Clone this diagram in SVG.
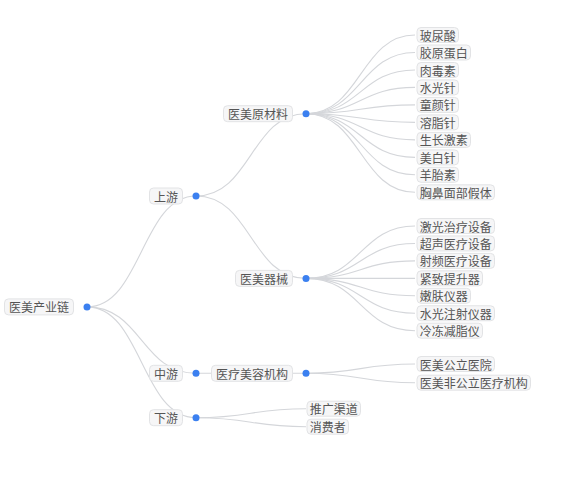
<svg xmlns="http://www.w3.org/2000/svg" width="587" height="494" viewBox="0 0 587 494">
<style>
.e{fill:none;stroke:#d4d6da;stroke-width:1.1}
.b{fill:#f6f6f7;stroke:#e2e3e5;stroke-width:1}
.t{font-family:"Noto Sans CJK SC","Noto Sans",sans-serif;font-size:12px;fill:#555555;dominant-baseline:central}
.d{fill:#3b80f0}
</style>
<rect width="587" height="494" fill="#ffffff"/>
<g id="connectors">
<path class="e" d="M87 306.9C141.5 306.9 141.5 196 196 196"/>
<path class="e" d="M87 306.9C141.5 306.9 141.5 373.3 196 373.3"/>
<path class="e" d="M87 306.9C141.5 306.9 141.5 417.7 196 417.7"/>
<path class="e" d="M196 196C251 196 251 113.7 306 113.7"/>
<path class="e" d="M196 196C251 196 251 278.4 306 278.4"/>
<path class="e" d="M196 373.3C251 373.3 251 373.3 306 373.3"/>
<path class="e" d="M196 417.7C251 417.7 251 408.7 306 408.7"/>
<path class="e" d="M196 417.7C251 417.7 251 426.7 306 426.7"/>
<path class="e" d="M306 113.7C360.5 113.7 360.5 35 415 35"/>
<path class="e" d="M306 113.7C360.5 113.7 360.5 52.5 415 52.5"/>
<path class="e" d="M306 113.7C360.5 113.7 360.5 70 415 70"/>
<path class="e" d="M306 113.7C360.5 113.7 360.5 87.4 415 87.4"/>
<path class="e" d="M306 113.7C360.5 113.7 360.5 104.9 415 104.9"/>
<path class="e" d="M306 113.7C360.5 113.7 360.5 122.4 415 122.4"/>
<path class="e" d="M306 113.7C360.5 113.7 360.5 139.9 415 139.9"/>
<path class="e" d="M306 113.7C360.5 113.7 360.5 157.4 415 157.4"/>
<path class="e" d="M306 113.7C360.5 113.7 360.5 174.8 415 174.8"/>
<path class="e" d="M306 113.7C360.5 113.7 360.5 192.3 415 192.3"/>
<path class="e" d="M306 278.4C360.5 278.4 360.5 226 415 226"/>
<path class="e" d="M306 278.4C360.5 278.4 360.5 243.45 415 243.45"/>
<path class="e" d="M306 278.4C360.5 278.4 360.5 260.9 415 260.9"/>
<path class="e" d="M306 278.4C360.5 278.4 360.5 278.35 415 278.35"/>
<path class="e" d="M306 278.4C360.5 278.4 360.5 295.8 415 295.8"/>
<path class="e" d="M306 278.4C360.5 278.4 360.5 313.25 415 313.25"/>
<path class="e" d="M306 278.4C360.5 278.4 360.5 330.7 415 330.7"/>
<path class="e" d="M306 373.3C360.5 373.3 360.5 364 415 364"/>
<path class="e" d="M306 373.3C360.5 373.3 360.5 382.7 415 382.7"/>
</g>
<g id="n-root"><rect class="b" x="4.5" y="298.9" width="69" height="16" rx="4"/><text class="t" x="9" y="306.9">医美产业链</text><circle class="d" cx="87" cy="306.9" r="3.5"/></g>
<g id="n-up"><rect class="b" x="149.5" y="188" width="33" height="16" rx="4"/><text class="t" x="154" y="196">上游</text><circle class="d" cx="196" cy="196" r="3.5"/></g>
<g id="n-mid"><rect class="b" x="149.5" y="365.3" width="33" height="16" rx="4"/><text class="t" x="154" y="373.3">中游</text><circle class="d" cx="196" cy="373.3" r="3.5"/></g>
<g id="n-down"><rect class="b" x="149.5" y="409.7" width="33" height="16" rx="4"/><text class="t" x="154" y="417.7">下游</text><circle class="d" cx="196" cy="417.7" r="3.5"/></g>
<g id="n-raw"><rect class="b" x="223.5" y="105.7" width="69" height="16" rx="4"/><text class="t" x="228" y="113.7">医美原材料</text><circle class="d" cx="306" cy="113.7" r="3.5"/></g>
<g id="n-device"><rect class="b" x="235.5" y="270.4" width="57" height="16" rx="4"/><text class="t" x="240" y="278.4">医美器械</text><circle class="d" cx="306" cy="278.4" r="3.5"/></g>
<g id="n-inst"><rect class="b" x="211.5" y="365.3" width="81" height="16" rx="4"/><text class="t" x="216" y="373.3">医疗美容机构</text><circle class="d" cx="306" cy="373.3" r="3.5"/></g>
<g id="l1"><rect class="b" x="417" y="27.5" width="41.5" height="15" rx="4"/><text class="t" x="419.75" y="35">玻尿酸</text></g>
<g id="l2"><rect class="b" x="417" y="45" width="53.5" height="15" rx="4"/><text class="t" x="419.75" y="52.5">胶原蛋白</text></g>
<g id="l3"><rect class="b" x="417" y="62.5" width="41.5" height="15" rx="4"/><text class="t" x="419.75" y="70">肉毒素</text></g>
<g id="l4"><rect class="b" x="417" y="79.9" width="41.5" height="15" rx="4"/><text class="t" x="419.75" y="87.4">水光针</text></g>
<g id="l5"><rect class="b" x="417" y="97.4" width="41.5" height="15" rx="4"/><text class="t" x="419.75" y="104.9">童颜针</text></g>
<g id="l6"><rect class="b" x="417" y="114.9" width="41.5" height="15" rx="4"/><text class="t" x="419.75" y="122.4">溶脂针</text></g>
<g id="l7"><rect class="b" x="417" y="132.4" width="53.5" height="15" rx="4"/><text class="t" x="419.75" y="139.9">生长激素</text></g>
<g id="l8"><rect class="b" x="417" y="149.9" width="41.5" height="15" rx="4"/><text class="t" x="419.75" y="157.4">美白针</text></g>
<g id="l9"><rect class="b" x="417" y="167.3" width="41.5" height="15" rx="4"/><text class="t" x="419.75" y="174.8">羊胎素</text></g>
<g id="l10"><rect class="b" x="417" y="184.8" width="77.5" height="15" rx="4"/><text class="t" x="419.75" y="192.3">胸鼻面部假体</text></g>
<g id="l11"><rect class="b" x="417" y="218.5" width="77.5" height="15" rx="4"/><text class="t" x="419.75" y="226">激光治疗设备</text></g>
<g id="l12"><rect class="b" x="417" y="235.95" width="77.5" height="15" rx="4"/><text class="t" x="419.75" y="243.45">超声医疗设备</text></g>
<g id="l13"><rect class="b" x="417" y="253.4" width="77.5" height="15" rx="4"/><text class="t" x="419.75" y="260.9">射频医疗设备</text></g>
<g id="l14"><rect class="b" x="417" y="270.85" width="65.5" height="15" rx="4"/><text class="t" x="419.75" y="278.35">紧致提升器</text></g>
<g id="l15"><rect class="b" x="417" y="288.3" width="53.5" height="15" rx="4"/><text class="t" x="419.75" y="295.8">嫩肤仪器</text></g>
<g id="l16"><rect class="b" x="417" y="305.75" width="77.5" height="15" rx="4"/><text class="t" x="419.75" y="313.25">水光注射仪器</text></g>
<g id="l17"><rect class="b" x="417" y="323.2" width="65.5" height="15" rx="4"/><text class="t" x="419.75" y="330.7">冷冻减脂仪</text></g>
<g id="l18"><rect class="b" x="417" y="356.5" width="77.5" height="15" rx="4"/><text class="t" x="419.75" y="364">医美公立医院</text></g>
<g id="l19"><rect class="b" x="417" y="375.2" width="113.5" height="15" rx="4"/><text class="t" x="419.75" y="382.7">医美非公立医疗机构</text></g>
<g id="l20"><rect class="b" x="307" y="401.2" width="53.5" height="15" rx="4"/><text class="t" x="309.75" y="408.7">推广渠道</text></g>
<g id="l21"><rect class="b" x="307" y="419.2" width="41.5" height="15" rx="4"/><text class="t" x="309.75" y="426.7">消费者</text></g>
</svg>
